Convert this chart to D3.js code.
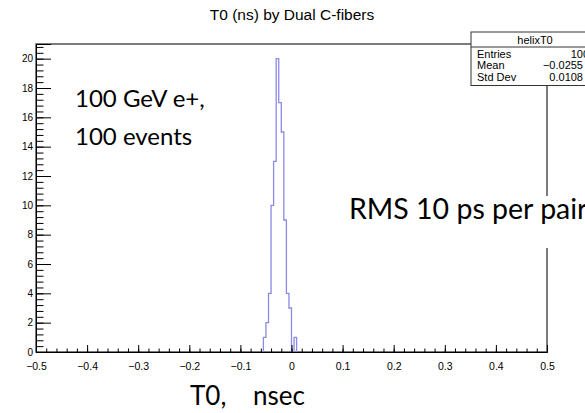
<!DOCTYPE html>
<html><head><meta charset="utf-8">
<script src="https://cdn.jsdelivr.net/npm/d3@7"></script>
<style>body{margin:0;background:#fff;overflow:hidden}</style>
</head><body><svg id="c" width="585" height="413"></svg>
<script>
// ---- data ----
const binLowEdges = [-0.055,-0.05,-0.045,-0.04,-0.035,-0.03,-0.025,-0.02,-0.015,-0.01,-0.005,0,0.005];
const binCounts   = [1,2,4,10,13,20,17,15,9,4,3,0,1];
const binWidth = 0.005;
const xTickValues = [-0.5,-0.4,-0.3,-0.2,-0.1,0,0.1,0.2,0.3,0.4,0.5];
const xTickLabels = ["\u22120.5","\u22120.4","\u22120.3","\u22120.2","\u22120.1","0","0.1","0.2","0.3","0.4","0.5"];
const yTickValues = [0,2,4,6,8,10,12,14,16,18,20];
const statsLabels = ["Entries","Mean","Std Dev"];
const statsValues = ["100","\u22120.0255","0.0108"];
const histName = "helixT0";
const title = "T0 (ns) by Dual C-fibers";
const notes = ["100 GeV e+,","100 events"];
const rmsNote = "RMS 10 ps per pair";
const xTitle = "T0,    nsec";

// ---- layout ----
const L=36, R=547, T=44, B=352;
const svg = d3.select("#c");
const x = d3.scaleLinear().domain([-0.5,0.5]).range([L,R]);
const y = d3.scaleLinear().domain([0,21]).range([B,T]);
const ROOTF = "'Liberation Sans', Arial, sans-serif";
const CAL = "Lato, 'Open Sans', sans-serif";

svg.append("text").attr("x",292).attr("y",20).attr("text-anchor","middle")
  .attr("font-family",ROOTF).attr("font-size",15.5).text(title);

// frame
svg.append("rect").attr("x",L).attr("y",T).attr("width",R-L).attr("height",B-T)
  .attr("fill","none").attr("stroke","#444").attr("stroke-width",1.4);

// histogram outline
const pts=[];
binLowEdges.forEach((lo,i)=>{
  const c=binCounts[i];
  if(i===0) pts.push([x(lo),y(0)]);
  pts.push([x(lo),y(c)]); pts.push([x(lo+binWidth),y(c)]);
});
pts.push([x(binLowEdges[binLowEdges.length-1]+binWidth),y(0)]);
svg.append("path").attr("d",d3.line()(pts)).attr("fill","none")
  .attr("stroke","#8a8ae8").attr("stroke-width",1.3);

// axes
const xMinor = d3.range(-0.5,0.5001,0.02);
svg.append("g").attr("transform",`translate(0,${B})`)
  .call(d3.axisBottom(x).tickValues(xMinor).tickSize(-3.5).tickFormat(""))
  .call(g=>g.select(".domain").remove()).selectAll("line").attr("stroke","#000");
const xMajor = d3.axisBottom(x).tickValues(xTickValues).tickSize(-7).tickPadding(11)
  .tickFormat((d,i)=>xTickLabels[i]);
const gx = svg.append("g").attr("transform",`translate(0,${B})`).call(xMajor);
gx.select(".domain").attr("stroke","#000");
gx.selectAll("line").attr("stroke","#000");
gx.selectAll("text").attr("font-family",ROOTF).attr("font-size",10.5).attr("fill","#000");

const yMinor = d3.range(0,20.81,0.4);
svg.append("g").attr("transform",`translate(${L},0)`)
  .call(d3.axisLeft(y).tickValues(yMinor).tickSize(-7.5).tickFormat(""))
  .call(g=>g.select(".domain").remove()).selectAll("line").attr("stroke","#000");
const gy = svg.append("g").attr("transform",`translate(${L},0)`)
  .call(d3.axisLeft(y).tickValues(yTickValues).tickSize(-15).tickPadding(3));
gy.select(".domain").attr("stroke","#000");
gy.selectAll("line").attr("stroke","#000");
gy.selectAll("text").attr("font-family",ROOTF).attr("font-size",10).attr("fill","#000");

// stats box
const sb = svg.append("g");
const sx=471, sy=32, sw=130, hdr=15, rowH=11.5;
sb.append("rect").attr("x",sx).attr("y",sy).attr("width",sw).attr("height",hdr+rowH*3+4)
  .attr("fill","#fff").attr("stroke","#333").attr("stroke-width",1);
sb.append("line").attr("x1",sx).attr("x2",sx+sw).attr("y1",sy+hdr).attr("y2",sy+hdr).attr("stroke","#333");
sb.append("text").attr("x",535).attr("y",sy+12).attr("text-anchor","middle")
  .attr("font-family",ROOTF).attr("font-size",11).text(histName);
statsLabels.forEach((s,i)=>{
  sb.append("text").attr("x",sx+6).attr("y",sy+hdr+rowH*(i+1)-1)
    .attr("font-family",ROOTF).attr("font-size",11).text(s);
  sb.append("text").attr("x",583+(i===0?6:0)).attr("y",sy+hdr+rowH*(i+1)-1).attr("text-anchor","end")
    .attr("font-family",ROOTF).attr("font-size",11).text(statsValues[i]);
});

// annotations
notes.forEach((t,i)=>{
  svg.append("text").attr("x",75).attr("y",107+i*38).attr("font-family",CAL)
    .attr("font-size",24).attr("fill","#000").text(t);
});
const rms = svg.append("g");
rms.append("rect").attr("x",343).attr("y",196).attr("width",250).attr("height",52).attr("fill","#fff");
rms.append("text").attr("x",349).attr("y",219).attr("font-family",CAL).attr("font-size",28.5)
  .attr("fill","#000").text(rmsNote);
svg.append("text").attr("x",190).attr("y",405).attr("font-family",CAL).attr("font-size",26)
  .attr("fill","#000").attr("xml:space","preserve").style("white-space","pre").text(xTitle);
</script></body></html>
